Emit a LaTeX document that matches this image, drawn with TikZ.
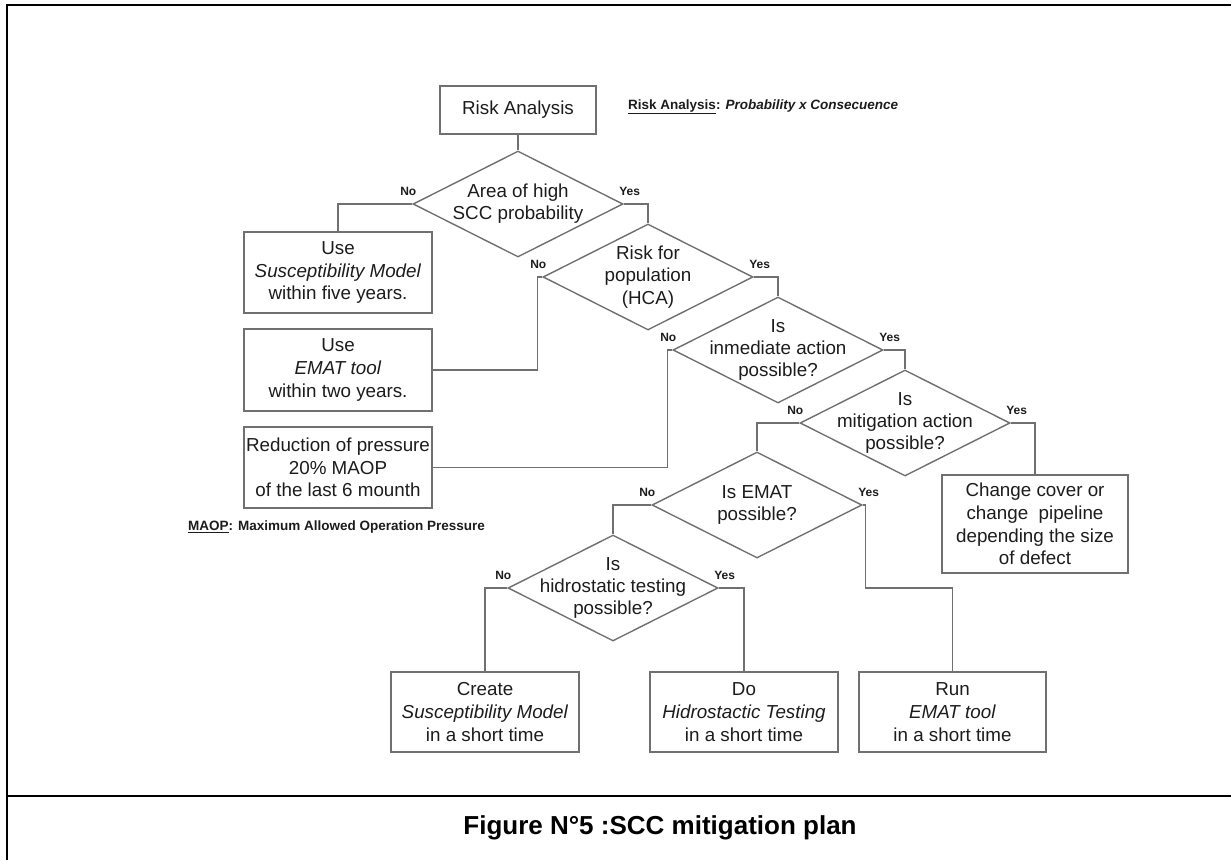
\documentclass[tikz,border=0pt]{standalone}
\usepackage{fontspec}
\setmainfont{Liberation Sans}
\usetikzlibrary{shapes.geometric}
\definecolor{lc}{RGB}{112,112,112}
\definecolor{tc}{RGB}{28,28,28}
\begin{document}
\begin{tikzpicture}[x=1pt,y=-1pt,
  box/.style={draw=lc,line width=1.4pt,inner sep=0pt,align=center,text=tc,font=\fontsize{18.8}{22.7}\selectfont},
  dia/.style={draw=lc,line width=1.4pt,diamond,inner sep=0pt,minimum width=210pt,minimum height=106pt},
  dtext/.style={align=center,text=tc,font=\fontsize{18.8}{22.2}\selectfont,inner sep=0pt},
  lab/.style={font=\fontsize{12}{14}\bfseries\selectfont,text=tc,inner sep=0pt},
  conn/.style={draw=lc,line width=1.4pt},
  note/.style={font=\fontsize{13.5}{16}\bfseries\selectfont,anchor=west,inner sep=0pt,text=tc},
  framel/.style={line width=2pt,black}]
\useasboundingbox (0,0) rectangle (1231,860);
% frame
\draw[framel] (7,860) -- (7,5) -- (1231,5);
\draw[framel] (7,796) -- (1231,796);
% boxes
\node[box,minimum width=156pt,minimum height=48pt] (ra) at (518,110) {Risk Analysis};
\node[box,minimum width=188pt,minimum height=81pt] (b1) at (338,272.5) {Use\\\textit{Susceptibility Model}\\within five years.};
\node[box,minimum width=188pt,minimum height=82pt] (b2) at (338,370) {Use\\\textit{EMAT tool}\\within two years.};
\node[box,minimum width=188pt,minimum height=81pt] (b3) at (338,467.5) {Reduction of pressure\\20\% MAOP\\of the last 6 mounth};
\node[box,minimum width=186pt,minimum height=98pt] (cc) at (1035,524) {Change cover or\\change\ \ pipeline\\depending the size\\of defect};
\node[box,minimum width=188pt,minimum height=80pt] (cr) at (485,712) {Create\\\textit{Susceptibility Model}\\in a short time};
\node[box,minimum width=188pt,minimum height=80pt] (do) at (744,712) {Do\\\textit{Hidrostactic Testing}\\in a short time};
\node[box,minimum width=187pt,minimum height=80pt] (run) at (952.5,712) {Run\\\textit{EMAT tool}\\in a short time};
% diamonds
\node[dia] (d1) at (518,204) {};
\node[dia] (d2) at (648,277) {};
\node[dia] (d3) at (778,350) {};
\node[dia] (d4) at (905,423) {};
\node[dia] (d5) at (757,505) {};
\node[dia] (d6) at (613,588) {};
\node[dtext] (t1) at (d1) {Area of high\\SCC probability};
\node[dtext] (t2) at (d2) {Risk for\\population\\(HCA)};
\node[dtext] (t3) at (d3) {Is\\inmediate action\\possible?};
\node[dtext] (t4) at (d4) {Is\\mitigation action\\possible?};
\node[dtext] (t5) at (d5) {Is EMAT\\possible?};
\node[dtext] (t6) at (d6) {Is\\hidrostatic testing\\possible?};
% labels
\foreach \d in {d1,d2,d3,d4,d5,d6}{
  \node[lab] (\d no) at ([shift={(-4,-13)}]\d.west) {No};
  \node[lab] (\d yes) at ([shift={(6,-13)}]\d.east) {Yes};
}
% connectors
\draw[conn] (ra.south) -- (d1.north);
\draw[conn] (d1.west) -| (b1.north);
\draw[conn] (d1.east) -| (d2.north);
\draw[conn] (d2.west) -- ++(-5,0) |- (b2.east);
\draw[conn] (d2.east) -| (d3.north);
\draw[conn] (d3.west) -- ++(-5,0) |- (b3.east);
\draw[conn] (d3.east) -| (d4.north);
\draw[conn] (d4.west) -| (d5.north);
\draw[conn] (d4.east) -| (cc.north);
\draw[conn] (d5.west) -| (d6.north);
\coordinate (j5) at (952.5,588);
\draw[conn] (d5.east) -- ++(3,0) |- (j5) -- (run.north);
\draw[conn] (d6.west) -| (cr.north);
\draw[conn] (d6.east) -| (do.north);
% notes
\node[note] (n1) at (628,107) {\underline{Risk Analysis}: \textit{Probability x Consecuence}};
\node[note] (n2) at (188,527) {\underline{MAOP}: Maximum Allowed Operation Pressure};
% caption
\node[font=\fontsize{26}{30}\bfseries\selectfont,inner sep=0pt] (cap) at (660,828) {Figure N°5 :SCC mitigation plan};
\end{tikzpicture}
\end{document}
